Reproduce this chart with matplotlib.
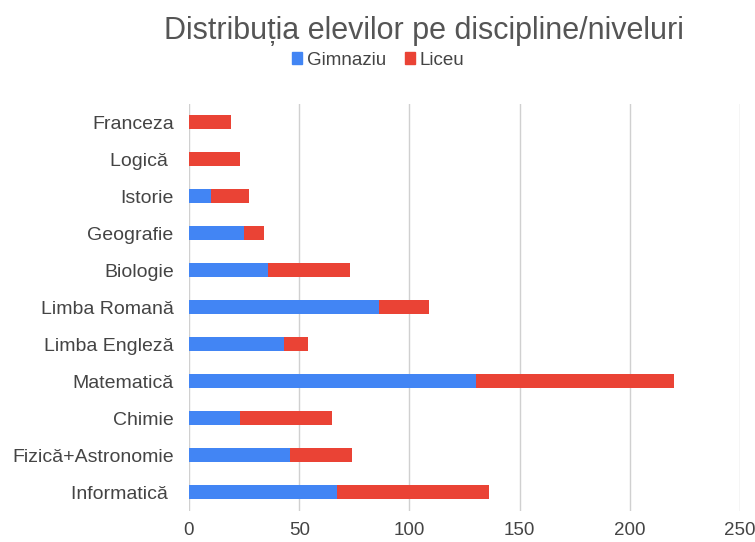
import numpy as np
from matplotlib import pyplot as plt
from matplotlib.patches import Patch

# Date (de sus in jos)
discipline = ["Franceza", "Logică ", "Istorie", "Geografie", "Biologie",
              "Limba Romană", "Limba Engleză", "Matematică", "Chimie",
              "Fizică+Astronomie", "Informatică "]
gimnaziu = [0, 0, 10, 25, 36, 86, 43, 130, 23, 46, 67]
liceu = [19, 23, 17, 9, 37, 23, 11, 90, 42, 28, 69]
x_ticks = [0, 50, 100, 150, 200, 250]

albastru = "#4285F4"
rosu = "#EA4335"
gri_text = "#444444"

plt.rcParams['font.family'] = ['Liberation Sans', 'DejaVu Sans']

fig = plt.figure(figsize=(7.55, 5.42), dpi=100)
ax = fig.add_axes([0.2503, 0.058, 0.73, 0.751])

y = np.arange(len(discipline))
ax.barh(y, gimnaziu, height=0.4, color=albastru, zorder=3)
ax.barh(y, liceu, left=gimnaziu, height=0.4, color=rosu, zorder=3)

ax.set_ylim(len(discipline) - 0.5, -0.5)
ax.set_xlim(0, 250)
ax.set_xticks(x_ticks)
ax.set_yticks(y)
ax.set_yticklabels(discipline)
ax.tick_params(length=0, labelsize=14, labelcolor=gri_text)
ax.tick_params(axis='x', pad=8.5, labelsize=13.5)
ax.tick_params(axis='y', pad=11)
ax.grid(axis='x', color="#d0d0d0", linewidth=1, zorder=0)
for s in ax.spines.values():
    s.set_visible(False)

fig.text(0.5616, 0.942, "Distribuția elevilor pe discipline/niveluri",
         ha='center', va='center', fontsize=22, color="#555555")
fig.legend(handles=[Patch(color=albastru, label="Gimnaziu"),
                    Patch(color=rosu, label="Liceu")],
           loc='center', bbox_to_anchor=(0.501, 0.889), ncol=2, frameon=False,
           fontsize=13.5, handlelength=0.55, handleheight=0.55, handletextpad=0.25,
           columnspacing=1.0, labelcolor=gri_text)

fig.savefig("out.png", dpi=100, facecolor="white")
